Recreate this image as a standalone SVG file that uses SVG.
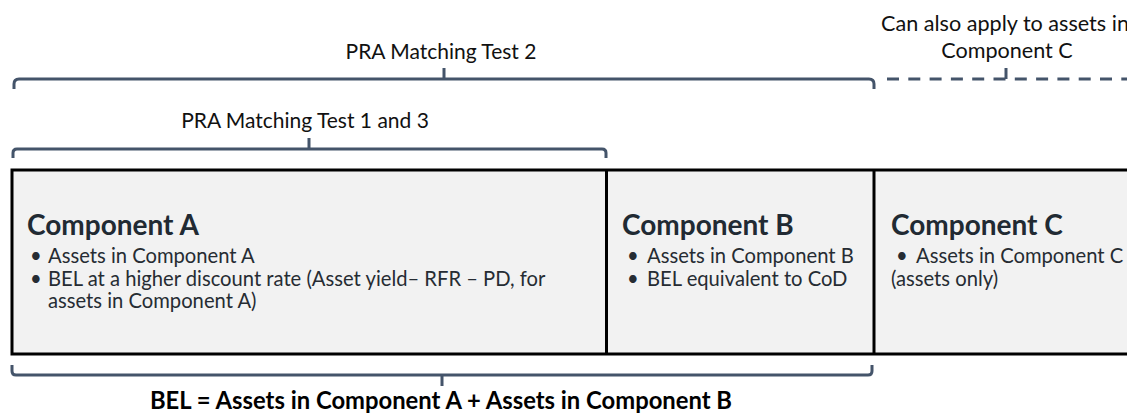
<svg xmlns="http://www.w3.org/2000/svg" width="1127" height="416" viewBox="0 0 1127 416">
<style>
.lbl{font-family:Lato,"Liberation Sans",sans-serif;font-size:21px;fill:#111;}
.ttl{font-family:Lato,"Liberation Sans",sans-serif;font-size:28px;font-weight:bold;fill:#212a33;}
.bul{font-family:Lato,"Liberation Sans",sans-serif;font-size:20.2px;fill:#262c33;}
.sum{font-family:Lato,"Liberation Sans",sans-serif;font-size:23.8px;font-weight:bold;fill:#000;}
.br{fill:none;stroke:#44546a;stroke-width:3;}
.box{fill:#f2f2f2;stroke:#000;stroke-width:3;}
</style>
<rect width="1127" height="416" fill="#fff"/>
<g id="connectors">
<path class="br" d="M14,89 V84 Q14,79 19,79 H869 Q874,79 874,84 V89 M444,79 V68"/>
<path class="br" d="M887,79 H1127" stroke-dasharray="12 9.3"/>
<path class="br" d="M1006,79 V68"/>
<path class="br" d="M13,158 V153 Q13,149 17,149 H602 Q606,149 606,153 V158 M309,149 V138"/>
<path class="br" d="M12,365 V371 Q12,375 16,375 H868 Q872,375 872,371 V365 M442,375 V386"/>
</g>
<g id="label-test2"><text class="lbl" x="441" y="59" text-anchor="middle">PRA Matching Test 2</text></g>
<g id="label-test13"><text class="lbl" x="305" y="128" text-anchor="middle">PRA Matching Test 1 and 3</text></g>
<g id="label-c"><text class="lbl" x="1005" y="31" text-anchor="middle" style="font-size:21.6px">Can also apply to assets in</text><text class="lbl" x="1007" y="58" text-anchor="middle" style="font-size:21.6px">Component C</text></g>
<g id="box-frame"><rect class="box" x="12" y="170" width="1125" height="184"/></g>
<g id="component-a">
<text class="ttl" x="27" y="235">Component A</text>
<text class="bul" y="263"><tspan x="30">•</tspan><tspan x="48">Assets in Component A</tspan></text>
<text class="bul" y="286"><tspan x="30">•</tspan><tspan x="48">BEL at a higher discount rate (Asset yield– RFR – PD, for</tspan></text>
<text class="bul" y="308"><tspan x="48">assets in Component A)</tspan></text>
</g>
<g id="component-b">
<path d="M606.5,170 V354" stroke="#000" stroke-width="3"/>
<text class="ttl" x="622" y="235">Component B</text>
<text class="bul" y="263"><tspan x="627">•</tspan><tspan x="647">Assets in Component B</tspan></text>
<text class="bul" y="286"><tspan x="627">•</tspan><tspan x="647">BEL equivalent to CoD</tspan></text>
</g>
<g id="component-c">
<path d="M874,170 V354" stroke="#000" stroke-width="3"/>
<text class="ttl" x="891" y="235">Component C</text>
<text class="bul" y="263"><tspan x="896">•</tspan><tspan x="916">Assets in Component C</tspan></text>
<text class="bul" y="286"><tspan x="891">(assets only)</tspan></text>
</g>
<g id="label-bel"><text class="sum" x="441" y="409" text-anchor="middle">BEL = Assets in Component A + Assets in Component B</text></g>
</svg>
